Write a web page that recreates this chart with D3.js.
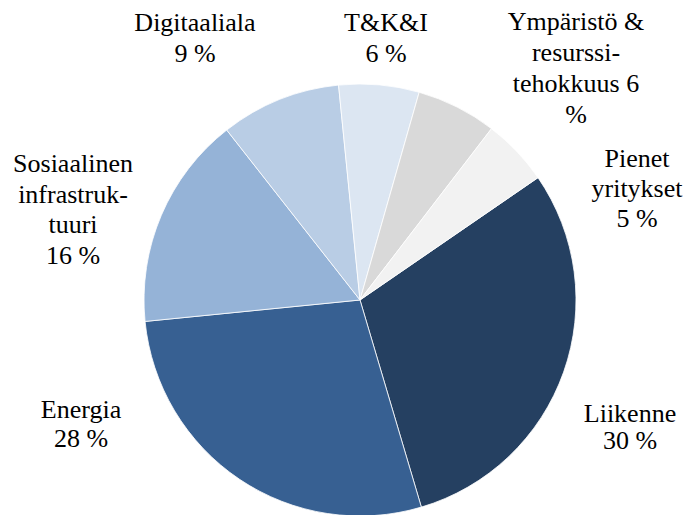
<!DOCTYPE html>
<html>
<head>
<meta charset="utf-8">
<script src="https://cdn.jsdelivr.net/npm/d3@7"></script>
</head>
<body style="margin:0">
<svg id="chart" width="686" height="515"></svg>
<script>
// ---- data ----
const categories = ["Liikenne", "Energia", "Sosiaalinen infrastruktuuri", "Digitaaliala", "T&K&I", "Ympäristö & resurssitehokkuus", "Pienet yritykset"];
const values = [30, 28, 16, 9, 6, 6, 5];
const labelLines = [
  ["Liikenne", "30 %"],
  ["Energia", "28 %"],
  ["Sosiaalinen", "infrastruk-", "tuuri", "16 %"],
  ["Digitaaliala", "9 %"],
  ["T&K&I", "6 %"],
  ["Ympäristö &", "resurssi-", "tehokkuus 6", "%"],
  ["Pienet", "yritykset", "5 %"]
];
const colors = ["#254061", "#376092", "#95b3d7", "#b9cde5", "#dce6f2", "#d9d9d9", "#f2f2f2"];

// ---- layout ----
const cx = 360, cy = 300, radius = 216;
const startDeg = 55.5;
// label anchors: [centre x, first baseline y, line step]
const labelLayout = [
  [630, 422, 26.5],
  [81, 418, 28.5],
  [73, 172, 30.5],
  [195, 31, 31],
  [386, 31, 31],
  [576, 30, 31],
  [637, 167, 30]
];

const svg = d3.select("#chart");
const g = svg.append("g").attr("transform", `translate(${cx},${cy})`);

const pie = d3.pie().sort(null).value(d => d)
  .startAngle(startDeg * Math.PI / 180)
  .endAngle((startDeg + 360) * Math.PI / 180);
const arc = d3.arc().innerRadius(0).outerRadius(radius);

g.selectAll("path")
  .data(pie(values))
  .join("path")
  .attr("d", arc)
  .attr("fill", (d, i) => colors[i])
  .attr("stroke", "#ffffff")
  .attr("stroke-width", 0.8)
  .attr("stroke-linejoin", "round");

// one <text> per line, left-anchored and centred by measured width
const flat = [];
labelLines.forEach((lines, i) => {
  const [x, y, step] = labelLayout[i];
  lines.forEach((t, j) => flat.push({ t, x, y: y + j * step }));
});

const texts = svg.selectAll("text")
  .data(flat)
  .join("text")
  .attr("y", d => d.y)
  .style("font-family", '"Liberation Serif"')
  .style("font-size", "26px")
  .text(d => d.t);

function centre() {
  texts.attr("x", function(d) { return d.x - this.getComputedTextLength() / 2; });
}
centre();
if (document.fonts && document.fonts.ready) document.fonts.ready.then(centre);
</script>
</body>
</html>
